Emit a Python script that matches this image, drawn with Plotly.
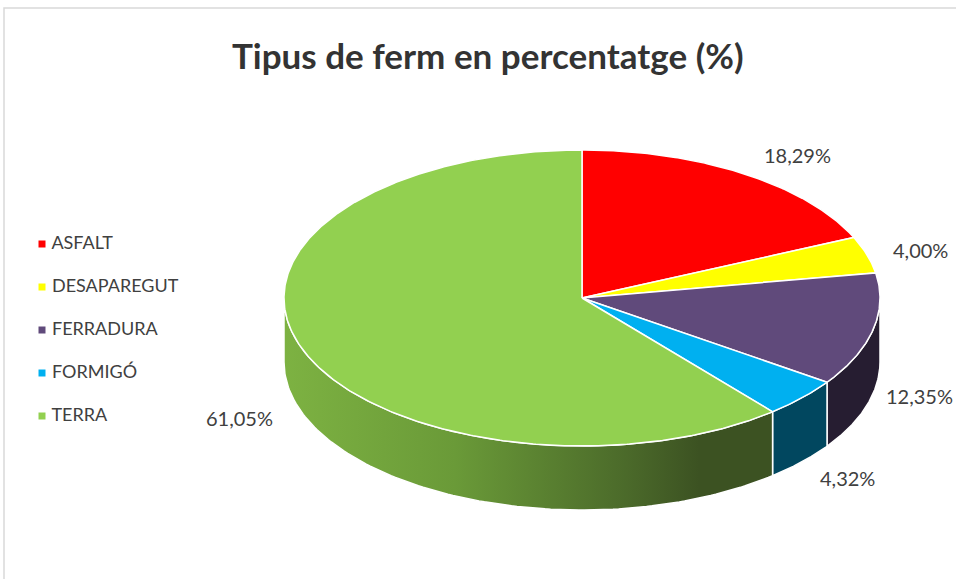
import numpy as np
import plotly.graph_objects as go

# ---- data ----
categories = ["ASFALT", "DESAPAREGUT", "FERRADURA", "FORMIGÓ", "TERRA"]
values = [18.29, 4.00, 12.35, 4.32, 61.05]
title_text = "Tipus de ferm en percentatge (%)"

# ---- style ----
top_colors = ["#FF0000", "#FFFF00", "#604A7B", "#00B0F0", "#92D050"]
side_colors = ["#8B0000", "#8B8B00", "#261D31", "#01475F", "#3C5222"]
W, H = 956, 579
CX, CY = 582, 298          # centre of top ellipse (pixels)
RX, RY = 298, 148          # radii of top ellipse
DEPTH = 64                 # thickness of the 3D pie
TEXT = "#404040"
FONT = "Lato"

total = sum(values)
fracs = [v / total for v in values]
starts = np.cumsum([0] + fracs[:-1]) * 360.0
ends = np.cumsum(fracs) * 360.0


def ell(theta_deg, dy=0.0, k=1.0):
    t = np.radians(theta_deg)
    return CX + RX * k * np.sin(t), CY - RY * k * np.cos(t) + dy


fig = go.Figure()

# ---- side walls (front half only: 90..270 degrees) ----
for i, (a, b) in enumerate(zip(starts, ends)):
    lo, hi = max(a, 90.0), min(b, 270.0)
    if hi <= lo:
        continue
    th = np.linspace(lo, hi, 120)
    xt, yt = ell(th)
    xb, yb = ell(th[::-1], dy=DEPTH)
    xs = np.concatenate([xt, xb, xt[:1]])
    ys = np.concatenate([yt, yb, yt[:1]])
    kw = dict(fillcolor=side_colors[i])
    if categories[i] == "TERRA":
        kw = dict(fillgradient=dict(
            type="horizontal",
            colorscale=[[0, "#7DB242"], [0.35, "#6A9A38"], [0.7, "#4B6A2A"],
                        [0.85, "#3C5222"], [1, "#3C5222"]],
            start=float(xs.min()), stop=float(xs.max())))
    fig.add_trace(go.Scatter(x=xs, y=ys, mode="lines", fill="toself",
                             line=dict(color="white", width=1.5),
                             hoverinfo="skip", showlegend=False, **kw))

# ---- top faces ----
for i, (a, b) in enumerate(zip(starts, ends)):
    th = np.linspace(a, b, max(int((b - a) * 2), 10))
    xa, ya = ell(th)
    xs = np.concatenate([[CX], xa, [CX]])
    ys = np.concatenate([[CY], ya, [CY]])
    fig.add_trace(go.Scatter(x=xs, y=ys, mode="lines", fill="toself",
                             fillcolor=top_colors[i],
                             line=dict(color="white", width=1.5),
                             name=categories[i], hoverinfo="name",
                             showlegend=False))

# ---- data labels ----
label_shift = [(21, 6), (-4, 4), (-12, -4), (2, -4), (-6, -4)]
for i, (a, b) in enumerate(zip(starts, ends)):
    m = (a + b) / 2
    lx, ly = ell(m, k=1.2)
    if np.cos(np.radians(m)) < 0:
        ly += DEPTH
    lx += label_shift[i][0]
    ly += label_shift[i][1]
    txt = f"{values[i]:.2f}".replace(".", ",") + "%"
    fig.add_annotation(x=lx, y=ly, text=txt, showarrow=False,
                       font=dict(family=FONT, size=20, color=TEXT),
                       xanchor="center", yanchor="middle")

# ---- legend (manual, to match Excel spacing) ----
leg_x = [42] * len(categories)
leg_y = [244 + 43 * i for i in range(len(categories))]
fig.add_trace(go.Scatter(
    x=leg_x, y=leg_y, mode="markers+text",
    marker=dict(symbol="square", size=7, color=top_colors, line=dict(width=0)),
    text=[" " + c for c in categories], textposition="middle right",
    textfont=dict(family=FONT, size=18, color=TEXT),
    hoverinfo="skip", showlegend=False, cliponaxis=False))

# ---- title ----
fig.add_annotation(x=488, y=55, text=f"<b>{title_text}</b>", showarrow=False,
                   font=dict(family=FONT, size=35, color="#333333"),
                   xanchor="center", yanchor="middle")

# ---- chart border ----
fig.add_shape(type="rect", xref="paper", yref="paper",
              x0=4 / W, y0=-0.05, x1=1.05, y1=1 - 8 / H,
              line=dict(color="#D9D9D9", width=1.5), fillcolor="rgba(0,0,0,0)")

fig.update_layout(
    width=W, height=H, autosize=False,
    margin=dict(l=0, r=0, t=0, b=0),
    paper_bgcolor="white", plot_bgcolor="white",
    xaxis=dict(range=[0, W], visible=False, fixedrange=True),
    yaxis=dict(range=[H, 0], visible=False, fixedrange=True),
    showlegend=False,
)

fig.write_html("out.html", config={"displayModeBar": False},
               post_script="document.body.style.margin='0';"
                           "document.body.style.overflow='hidden';")
